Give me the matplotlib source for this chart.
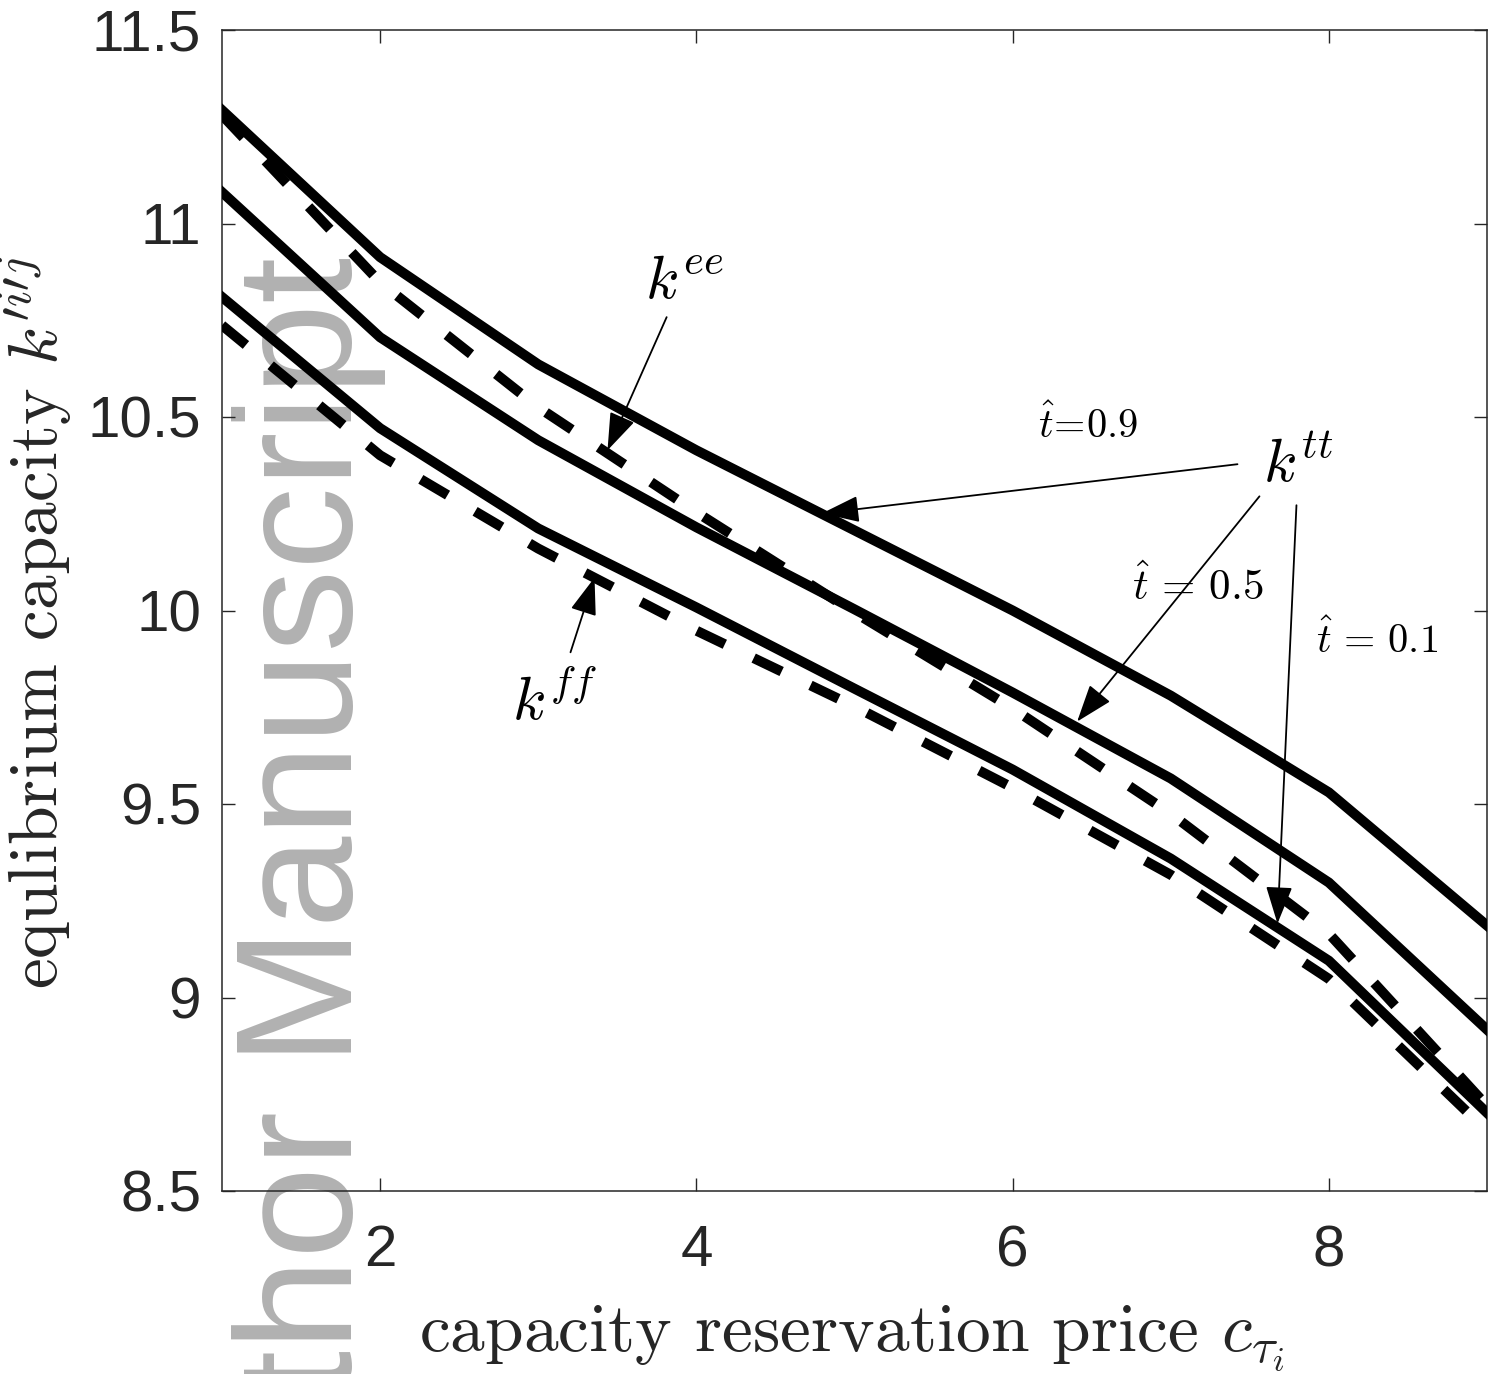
import matplotlib
matplotlib.use("Agg")
import matplotlib.pyplot as plt

# ---- data ----
price = [1, 2, 3, 4, 5, 6, 7, 8, 9]
k_tt_09 = [11.293, 10.913, 10.636, 10.414, 10.207, 10.000, 9.780, 9.530, 9.186]
k_tt_05 = [11.081, 10.706, 10.440, 10.215, 10.003, 9.788, 9.566, 9.297, 8.917]
k_tt_01 = [10.810, 10.471, 10.212, 10.008, 9.798, 9.589, 9.359, 9.095, 8.702]
k_ee = [11.280, 10.848, 10.525, 10.254, 9.995, 9.747, 9.475, 9.165, 8.720]
k_ff = [10.737, 10.401, 10.160, 9.948, 9.752, 9.542, 9.317, 9.048, 8.655]

xticks = [2, 4, 6, 8]
yticks = [8.5, 9, 9.5, 10, 10.5, 11, 11.5]
ytick_labels = ["8.5", "9", "9.5", "10", "10.5", "11", "11.5"]

plt.rcParams["mathtext.fontset"] = "cm"

fig = plt.figure(figsize=(15.03, 13.74), dpi=100)
ax = fig.add_axes([222/1503, 1 - 1191/1374, (1487-222)/1503, (1191-30)/1374])
ax.patch.set_alpha(0)

lw = 7.2
dash = (0, (3.1, 3.2))
for ys in (k_tt_09, k_tt_05, k_tt_01):
    ax.plot(price, ys, color="black", lw=lw, solid_joinstyle="miter", zorder=3)
for ys in (k_ee, k_ff):
    ax.plot(price, ys, color="black", lw=lw, linestyle=dash,
            dash_capstyle="butt", zorder=3)

ax.set_xlim(1, 9)
ax.set_ylim(8.5, 11.5)
ax.set_xticks(xticks)
ax.set_xticklabels([str(t) for t in xticks])
ax.set_yticks(yticks)
ax.set_yticklabels(ytick_labels)

tc = "#262626"
for s in ax.spines.values():
    s.set_color(tc)
    s.set_linewidth(1.1)
ax.tick_params(direction="in", length=9.5, width=1.0, color=tc,
               top=True, right=True, labelcolor=tc, labelsize=42)
ax.tick_params(axis="x", pad=24)
ax.tick_params(axis="y", pad=15)
for lab in ax.get_xticklabels() + ax.get_yticklabels():
    lab.set_family("Liberation Sans")

ax.set_xlabel(r"capacity reservation price $c_{\tau_i}$", fontsize=50,
              family="cmr10", color=tc)
ax.xaxis.set_label_coords(0.498, -0.097)
ax.set_ylabel(r"equlibrium capacity $k^{\prime i \prime j}$", fontsize=50,
              family="cmr10", color=tc)
ax.yaxis.set_label_coords(-0.117, 0.49)

# annotations
arrow = dict(arrowstyle="-|>,head_length=0.9,head_width=0.32", lw=1.3,
             color="black", fc="black", mutation_scale=26, shrinkA=0, shrinkB=0)
ax.text(3.672, 10.807, r"$k^{ee}$", fontsize=44, ha="left", va="baseline")
ax.annotate("", xy=(3.438, 10.414), xytext=(3.812, 10.758), arrowprops=arrow)

ax.text(6.162, 10.445, r"$\hat{t}\!=\!0.9$", fontsize=29, ha="left", va="baseline")
ax.text(7.586, 10.331, r"$k^{tt}$", fontsize=44, ha="left", va="baseline")
ax.annotate("", xy=(4.794, 10.251), xytext=(7.422, 10.378), arrowprops=arrow)
ax.text(6.757, 10.026, r"$\hat{t}\,=\,0.5$", fontsize=31, ha="left", va="baseline")
ax.annotate("", xy=(6.408, 9.713), xytext=(7.561, 10.295), arrowprops=arrow)
ax.text(7.916, 9.889, r"$\hat{t}\,=\,0.1$", fontsize=29, ha="left", va="baseline")
ax.annotate("", xy=(7.675, 9.191), xytext=(7.795, 10.272), arrowprops=arrow)

ax.text(2.837, 9.716, r"$k^{ff}$", fontsize=44, ha="left", va="baseline")
ax.annotate("", xy=(3.356, 10.085), xytext=(3.204, 9.892), arrowprops=arrow)

# watermark
fig.text(232/1503, 1 - 257/1374, "Author Manuscript", rotation=90,
         ha="left", va="top", fontsize=119, color="#b1b1b1",
         family="Liberation Sans", zorder=-1)

fig.savefig("out.png", dpi=100)
